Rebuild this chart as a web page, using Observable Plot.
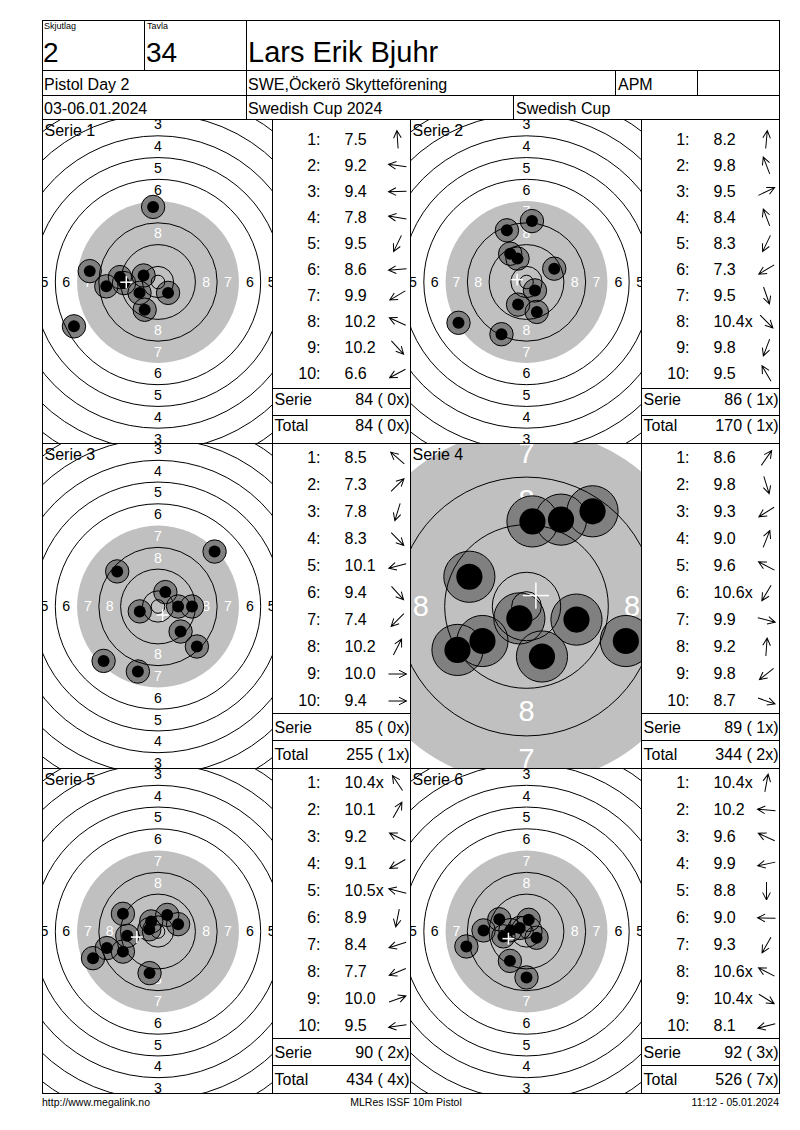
<!DOCTYPE html>
<html>
<head>
<meta charset="utf-8">
<script src="https://cdn.jsdelivr.net/npm/d3@7"></script>
<script src="https://cdn.jsdelivr.net/npm/@observablehq/plot@0.6"></script>
<style>
html, body { margin: 0; padding: 0; background: #fff; }
#page { position: relative; width: 800px; height: 1130px; overflow: hidden;
  font-family: "Liberation Sans", Arial, Helvetica, sans-serif; color: #000; }
.ln { position: absolute; background: #000; }
.t { position: absolute; white-space: nowrap; }
.panel { position: absolute; overflow: hidden; }
.panel svg { display: block; }
</style>
</head>
<body>
<div id="page"></div>
<script>
// ---------------- data ----------------
const headerLabels = ["Skjutlag", "Tavla"];
const headerValues = ["2", "34", "Lars Erik Bjuhr"];
const eventRow = ["Pistol Day 2", "SWE,Öckerö Skytteförening", "APM", ""];
const dateRow = ["03-06.01.2024", "Swedish Cup 2024", "Swedish Cup"];
const footerTexts = ["http://www.megalink.no", "MLRes ISSF 10m Pistol", "11:12 - 05.01.2024"];

const serieNames = ["Serie 1", "Serie 2", "Serie 3", "Serie 4", "Serie 5", "Serie 6"];

const scores1 = ["7.5", "9.2", "9.4", "7.8", "9.5", "8.6", "9.9", "10.2", "10.2", "6.6"];
const scores2 = ["8.2", "9.8", "9.5", "8.4", "8.3", "7.3", "9.5", "10.4x", "9.8", "9.5"];
const scores3 = ["8.5", "7.3", "7.8", "8.3", "10.1", "9.4", "7.4", "10.2", "10.0", "9.4"];
const scores4 = ["8.6", "9.8", "9.3", "9.0", "9.6", "10.6x", "9.9", "9.2", "9.8", "8.7"];
const scores5 = ["10.4x", "10.1", "9.2", "9.1", "10.5x", "8.9", "8.4", "7.7", "10.0", "9.5"];
const scores6 = ["10.4x", "10.2", "9.6", "9.9", "8.8", "9.0", "9.3", "10.6x", "10.4x", "8.1"];

// shot positions in mm from target centre (x to the right, y upward)
const shotX1 = [-1.8, -14.0, -12.5, -25.1, -4.9, -19.0, -6.8, -5.3, 3.7, -30.9];
const shotY1 = [27.6, 1.8, -0.4, 4.0, -10.2, -1.6, -4.0, 2.4, -4.0, -16.3];
const shotX2 = [2.0, -3.3, 10.2, -7.2, -9.2, -25.0, 3.8, 3.1, -3.1, -6.0];
const shotY2 = [22.4, 8.6, 4.9, 19.0, -19.2, -15.0, -11.0, -3.1, -8.3, 10.4];
const shotX3 = [-15.0, 20.8, -7.4, 14.3, -6.7, 8.3, -20.0, 2.7, 7.4, 12.5];
const shotY3 = [12.9, 20.2, -23.9, -14.7, -1.8, -9.2, -20.0, 5.3, 0.0, 0.0];
const shotX4 = [11.1, 2.6, -11.6, 5.8, -9.6, -1.2, 8.4, 1.0, -7.4, 16.7];
const shotY4 = [16.0, -8.4, -7.3, 14.6, 5.0, -2.0, -2.2, 14.3, -5.8, -5.8];
const shotX5 = [-2.5, 3.4, -12.9, -12.9, -3.2, -3.1, -18.8, -23.9, 7.4, -11.3];
const shotY5 = [3.7, 6.1, 6.5, -7.4, 0.8, -15.3, -6.1, -9.8, 2.7, -1.6];
const shotX6 = [0.8, -5.9, -10.0, -8.5, 0.0, -15.8, -6.1, -2.5, 3.7, -22.1];
const shotY6 = [4.3, 0.5, 4.5, -1.8, -16.9, 0.4, -10.8, 1.3, -2.3, -5.5];

const serieSums = ["84 ( 0x)", "86 ( 1x)", "85 ( 0x)", "89 ( 1x)", "90 ( 2x)", "92 ( 3x)"];
const runningTotals = ["84 ( 0x)", "170 ( 1x)", "255 ( 1x)", "344 ( 2x)", "434 ( 4x)", "526 ( 7x)"];

// ISSF 10 m air pistol target: ring numbers and outer radii (mm)
const ringNumbers = [1, 2, 3, 4, 5, 6, 7, 8, 9, 10];
const ringRadiusMm = [77.75, 69.75, 61.75, 53.75, 45.75, 37.75, 29.75, 21.75, 13.75, 5.75];
const innerTenRadiusMm = 2.5;
const targetCentre = {x: 0, y: 0};
const labelledRings = [1, 2, 3, 4, 5, 6, 7, 8];
const labelDirections = [[0, 1], [0, -1], [-1, 0], [1, 0]];

// view zoom of each target (pixels per mm)
const viewScale = [2.72, 2.72, 2.72, 5.95, 2.72, 2.72];

// ---------------- derived tables ----------------
const scoresAll = [scores1, scores2, scores3, scores4, scores5, scores6];
const shotXAll = [shotX1, shotX2, shotX3, shotX4, shotX5, shotX6];
const shotYAll = [shotY1, shotY2, shotY3, shotY4, shotY5, shotY6];
function shotsOf(i) {
  return scoresAll[i].map((s, k) => ({
    n: k + 1, score: s, x: shotXAll[i][k], y: shotYAll[i][k],
    angle: Math.atan2(shotXAll[i][k], shotYAll[i][k]) * 180 / Math.PI
  }));
}
const rings = ringNumbers.map((n, k) => ({ring: n, radius: ringRadiusMm[k], x: targetCentre.x, y: targetCentre.y}));
const ringLines = rings.filter(d => d.ring !== 7)
  .concat([{ring: 11, radius: innerTenRadiusMm, x: targetCentre.x, y: targetCentre.y}]);
const blackDisc = rings.filter(d => d.ring === 7);
const ringLabels = [];
for (const n of labelledRings) {
  const mid = (ringRadiusMm[n - 1] + ringRadiusMm[n]) / 2;
  for (const [dx, dy] of labelDirections) {
    ringLabels.push({ring: n, text: String(n), x: targetCentre.x + dx * mid, y: targetCentre.y + dy * mid});
  }
}
const shotOuterMm = 4.3, shotInnerMm = 2.2, crossArmMm = 2.2;

// thin open arrow like the reference's direction arrows
const thinArrow = {
  draw(context, l) {
    context.moveTo(0, 0);
    context.lineTo(0, -l);
    context.moveTo(-3.8, -l + 7.5);
    context.lineTo(0, -l);
    context.lineTo(3.8, -l + 7.5);
  }
};

// ---------------- layout ----------------
const page = document.getElementById("page");
const FONT = '"Liberation Sans", Arial, Helvetica, sans-serif';
function line(x, y, w, h) {
  const d = document.createElement("div");
  d.className = "ln";
  Object.assign(d.style, {left: x + "px", top: y + "px", width: w + "px", height: h + "px"});
  page.appendChild(d);
}
function text(str, x, baseline, size, align = "left") {
  const d = document.createElement("div");
  d.className = "t";
  d.textContent = str;
  const top = baseline - 0.8465 * size;
  Object.assign(d.style, {top: top + "px", fontSize: size + "px", lineHeight: size + "px"});
  if (align === "left") d.style.left = x + "px";
  else if (align === "right") { d.style.left = (x - 400) + "px"; d.style.width = "400px"; d.style.textAlign = "right"; }
  else { d.style.left = (x - 200) + "px"; d.style.width = "400px"; d.style.textAlign = "center"; }
  page.appendChild(d);
}

const X0 = 42, X1 = 779, Y0 = 20, Y1 = 1093;
const rowTops = [119, 443, 768];
const rowBottoms = [443, 768, 1093];
const colX = [42, 272, 410, 641, 779];

// header
text(headerLabels[0], 44, 30, 9);
text(headerLabels[1], 147, 30, 9);
text(headerValues[0], 43, 63, 28);
text(headerValues[1], 146, 63, 28);
text(headerValues[2], 248, 63, 29);
text(eventRow[0], 44, 91, 16);
text(eventRow[1], 248, 91, 16);
text(eventRow[2], 618, 91, 16);
text(eventRow[3], 700, 91, 16);
text(dateRow[0], 44, 115, 16);
text(dateRow[1], 248, 115, 16);
text(dateRow[2], 516, 115, 16);

// footer
text(footerTexts[0], 42, 1106, 10.5, "left");
text(footerTexts[1], 406, 1106, 10.5, "center");
text(footerTexts[2], 779, 1106, 10.5, "right");

function targetPlot(i, w, h) {
  const s = viewScale[i];
  const shots = shotsOf(i);
  const mean = {x: d3.mean(shots, d => d.x), y: d3.mean(shots, d => d.y)};
  const fs = Math.min(5.2 * s, 29);
  return Plot.plot({
    width: w, height: h, margin: 0,
    x: {domain: [-w / 2 / s, w / 2 / s], axis: null},
    y: {domain: [-h / 2 / s, h / 2 / s], axis: null},
    r: {type: "linear", domain: [0, 1], range: [0, s], clamp: false},
    style: {background: "#fff", overflow: "hidden", fontFamily: FONT},
    marks: [
      Plot.dot(blackDisc, {x: "x", y: "y", r: "radius", fill: "#c0c0c0", stroke: null}),
      Plot.text(ringLabels.filter(d => d.ring < 7), {x: "x", y: "y", text: "text", fill: "#000", fontSize: fs}),
      Plot.text(ringLabels.filter(d => d.ring >= 7), {x: "x", y: "y", text: "text", fill: "#fff", fontSize: fs}),
      Plot.text([serieNames[i]], {text: d => d, frameAnchor: "top-left", lineAnchor: "top", dx: 1, dy: 4.5, fontSize: 16, fill: "#000"}),
      Plot.dot(shots, {x: "x", y: "y", r: () => shotOuterMm, fill: "#808080", stroke: null, sort: null}),
      Plot.dot(ringLines, {x: "x", y: "y", r: "radius", stroke: "#000", strokeWidth: 1, fill: "none"}),
      Plot.dot(shots, {x: "x", y: "y", r: () => shotOuterMm, fill: "none", stroke: "#000", strokeWidth: 1, sort: null}),
      Plot.dot(shots, {x: "x", y: "y", r: () => shotInnerMm, fill: "#000", stroke: null, sort: null}),
      Plot.link([mean], {x1: d => d.x - crossArmMm, x2: d => d.x + crossArmMm, y1: "y", y2: "y", stroke: "#fff", strokeWidth: 1.5}),
      Plot.link([mean], {x1: "x", x2: "x", y1: d => d.y - crossArmMm, y2: d => d.y + crossArmMm, stroke: "#fff", strokeWidth: 1.5})
    ]
  });
}

function tablePlot(i, w, h) {
  const shots = shotsOf(i);
  const rows = shots.map(d => ({key: String(d.n), num: d.n + ":", value: d.score, angle: d.angle}));
  const summary = [
    {key: "Serie", label: "Serie", value: serieSums[i]},
    {key: "Total", label: "Total", value: runningTotals[i]}
  ];
  return Plot.plot({
    width: w, height: h, margin: 0,
    y: {type: "band", domain: rows.map(d => d.key).concat(["Serie", "Total"]), padding: 0, axis: null},
    style: {background: "#fff", overflow: "hidden", fontFamily: FONT},
    marks: [
      Plot.text(rows, {y: "key", text: "num", frameAnchor: "left", textAnchor: "end", dx: 47, fontSize: 16, fill: "#000"}),
      Plot.text(rows, {y: "key", text: "value", frameAnchor: "left", textAnchor: "start", dx: 71, fontSize: 16, fill: "#000"}),
      Plot.vector(rows, {y: "key", rotate: "angle", length: 18, anchor: "middle", frameAnchor: "left", dx: 124,
        shape: thinArrow, stroke: "#000", strokeWidth: 1, strokeLinecap: "butt", strokeLinejoin: "miter"}),
      Plot.text(summary, {y: "key", text: "label", frameAnchor: "left", textAnchor: "start", dx: 1, fontSize: 16, fill: "#000"}),
      Plot.text(summary, {y: "key", text: "value", frameAnchor: "right", textAnchor: "end", dx: -1, fontSize: 16, fill: "#000"})
    ]
  });
}

function mount(node, x, y, w, h) {
  const d = document.createElement("div");
  d.className = "panel";
  Object.assign(d.style, {left: x + "px", top: y + "px", width: w + "px", height: h + "px"});
  d.appendChild(node);
  page.appendChild(d);
}

for (let i = 0; i < 6; i++) {
  const r = Math.floor(i / 2), c = i % 2;
  const top = rowTops[r] + 1, h = rowBottoms[r] - top;
  const tx = colX[c * 2] + 1, tw = colX[c * 2 + 1] - tx;
  const bx = colX[c * 2 + 1] + 1, bw = colX[c * 2 + 2] - bx;
  mount(targetPlot(i, tw, h), tx, top, tw, h);
  mount(tablePlot(i, bw, h), bx, top, bw, h);
  // separators above the Serie and Total rows
  line(colX[c * 2 + 1], top + Math.round(10 * h / 12) - 1, bw + 1, 1);
  line(colX[c * 2 + 1], top + Math.round(11 * h / 12) - 1, bw + 1, 1);
}

// frame lines
for (const y of [Y0, 70, 95, 119, 443, 768, Y1]) line(X0, y, X1 - X0 + 1, 1);
line(X0, Y0, 1, Y1 - Y0 + 1);
line(X1, Y0, 1, Y1 - Y0 + 1);
for (const x of [144, 246]) line(x, 20, 1, 50);
for (const x of [246, 615, 697]) line(x, 70, 1, 25);
for (const x of [246, 513]) line(x, 95, 1, 24);
for (const x of [272, 410, 641]) line(x, 119, 1, Y1 - 119);
</script>
</body>
</html>
